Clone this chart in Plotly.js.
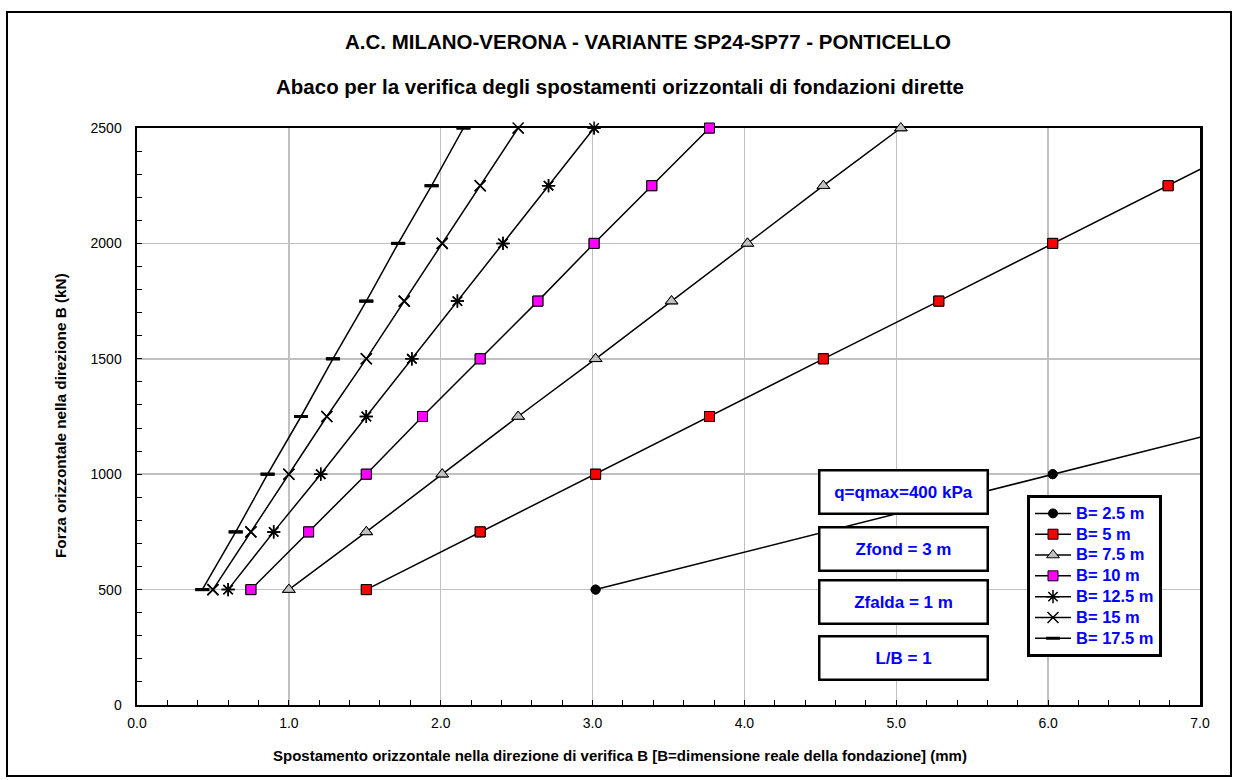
<!DOCTYPE html>
<html>
<head>
<meta charset="utf-8">
<script src="https://cdn.plot.ly/plotly-3.0.1.min.js"></script>
<style>
  html, body { margin: 0; padding: 0; background: #ffffff; }
  #chart { width: 1239px; height: 780px; }
</style>
</head>
<body>
<div id="chart"></div>
<script>
// Horizontal force levels (kN)
const forceKN = [500, 750, 1000, 1250, 1500, 1750, 2000, 2250, 2500];
const forceB25 = [500, 1000, 1500];

// Horizontal displacement (mm) for each foundation width B
const dispB25  = [3.02, 6.03, 9.05];
const dispB5   = [1.51, 2.26, 3.02, 3.77, 4.52, 5.28, 6.03, 6.79, 7.54];
const dispB75  = [1.00, 1.51, 2.01, 2.51, 3.02, 3.52, 4.02, 4.52, 5.03];
const dispB10  = [0.75, 1.13, 1.51, 1.88, 2.26, 2.64, 3.01, 3.39, 3.77];
const dispB125 = [0.60, 0.90, 1.21, 1.51, 1.81, 2.11, 2.41, 2.71, 3.01];
const dispB15  = [0.50, 0.75, 1.00, 1.25, 1.51, 1.76, 2.01, 2.26, 2.51];
const dispB175 = [0.43, 0.65, 0.86, 1.08, 1.29, 1.51, 1.72, 1.94, 2.15];

const seriesNames = ['B= 2.5 m', 'B= 5 m', 'B= 7.5 m', 'B= 10 m', 'B= 12.5 m', 'B= 15 m', 'B= 17.5 m'];

const titleLine1 = 'A.C. MILANO-VERONA - VARIANTE SP24-SP77 - PONTICELLO';
const titleLine2 = 'Abaco per la verifica degli spostamenti orizzontali di fondazioni dirette';
const xTitle = 'Spostamento orizzontale nella direzione di verifica B [B=dimensione reale della fondazione] (mm)';
const yTitle = 'Forza orizzontale nella direzione B (kN)';
const infoBoxes = ['q=qmax=400 kPa', 'Zfond = 3 m', 'Zfalda = 1 m', 'L/B = 1'];

// ---- layout geometry (pixels) ----
const W = 1239, H = 780;
const M = { l: 137, r: 39, t: 128, b: 75 };
const PW = W - M.l - M.r, PH = H - M.t - M.b;
const px = v => (v - M.l) / PW;          // pixel x -> paper x
const py = v => (H - M.b - v) / PH;      // pixel y -> paper y

const FONT = 'Liberation Sans, Arial, Helvetica, sans-serif';
const BLUE = '#0000ff';

const styles = [
  { symbol: 'circle',        size: 9,  color: '#000000', lc: '#000000', lw: 1 },
  { symbol: 'square',        size: 10, color: '#ff0000', lc: '#000000', lw: 1 },
  { symbol: 'triangle-up',   size: 11, color: '#c0c0c0', lc: '#000000', lw: 1 },
  { symbol: 'square',        size: 10, color: '#ff00ff', lc: '#000000', lw: 1 },
  { symbol: 'asterisk-open', size: 11, color: '#000000', lc: '#000000', lw: 1.5 },
  { symbol: 'x-thin-open',   size: 11, color: '#000000', lc: '#000000', lw: 1.5 },
  { symbol: 'line-ew-open',  size: 10, color: '#000000', lc: '#000000', lw: 3 }
];

const xs = [dispB25, dispB5, dispB75, dispB10, dispB125, dispB15, dispB175];
const ys = [forceB25, forceKN, forceKN, forceKN, forceKN, forceKN, forceKN];

const markerOf = s => ({ symbol: s.symbol, size: s.size, color: s.color,
                         line: { color: s.lc, width: s.lw } });

const traces = [];
xs.forEach((xv, i) => {
  // line + markers, clipped to the plotting area
  traces.push({
    type: 'scatter', mode: 'lines+markers',
    name: '<span style="font-size:16.5px">' + seriesNames[i] + '</span>',
    x: xv, y: ys[i], legendgroup: 'g' + i,
    line: { color: '#000000', width: 1.5 },
    marker: markerOf(styles[i]), hoverinfo: 'x+y'
  });
});
// markers again, unclipped so those sitting on the frame stay whole
xs.forEach((xv, i) => {
  traces.push({
    type: 'scatter', mode: 'markers', x: xv, y: ys[i],
    legendgroup: 'g' + i, showlegend: false, cliponaxis: false,
    marker: markerOf(styles[i]), hoverinfo: 'skip'
  });
});

const annotations = [
  { text: titleLine1, x: px(648), y: py(42), font: { size: 20.5, weight: 'bold', color: '#000' } },
  { text: titleLine2, x: px(620), y: py(87), font: { size: 20.5, weight: 'bold', color: '#000' } },
  { text: xTitle, x: px(620), y: py(755), font: { size: 15, weight: 'bold', color: '#000' } },
  { text: yTitle, x: px(60), y: py(416), textangle: -90, font: { size: 15.3, weight: 'bold', color: '#000' } }
].map(a => Object.assign({ xref: 'paper', yref: 'paper', showarrow: false,
                            xanchor: 'center', yanchor: 'middle' }, a));

const boxCenters = [491.5, 548.5, 602, 657.5];
infoBoxes.forEach((t, i) => {
  annotations.push({
    text: t, xref: 'paper', yref: 'paper', x: px(903), y: py(boxCenters[i]),
    xanchor: 'center', yanchor: 'middle', showarrow: false,
    width: 166, height: 41, borderpad: 0,
    bgcolor: '#ffffff', bordercolor: '#000000', borderwidth: 2.5,
    font: { size: 17, weight: 'bold', color: BLUE }
  });
});

const layout = {
  width: W, height: H,
  margin: M,
  paper_bgcolor: '#ffffff', plot_bgcolor: '#ffffff',
  font: { family: FONT, size: 14, color: '#000000' },
  showlegend: true,
  legend: {
    x: px(1027), y: py(495), xanchor: 'left', yanchor: 'top',
    bgcolor: '#ffffff', bordercolor: '#000000', borderwidth: 3,
    font: { size: 13.7, weight: 'bold', color: BLUE },
    itemwidth: 36, tracegroupgap: 0
  },
  xaxis: {
    range: [0, 7], dtick: 1, tick0: 0, tickformat: '.1f',
    showgrid: true, gridcolor: '#c0c0c0', gridwidth: 1.5,
    showline: true, linecolor: '#000000', linewidth: 2, mirror: true,
    ticks: 'inside', ticklen: 5, tickcolor: '#000000', tickwidth: 1,
    minor: { dtick: 0.2, ticks: 'inside', ticklen: 5, tickcolor: '#000000', showgrid: false },
    zeroline: false, fixedrange: true, layer: 'below traces',
    tickfont: { size: 14 }, ticklabelstandoff: 4
  },
  yaxis: {
    range: [0, 2500], dtick: 500, tick0: 0,
    showgrid: true, gridcolor: '#c0c0c0', gridwidth: 1.5,
    showline: true, linecolor: '#000000', linewidth: 2.5, mirror: true,
    ticks: 'inside', ticklen: 5, tickcolor: '#000000', tickwidth: 1,
    minor: { dtick: 100, ticks: 'inside', ticklen: 5, tickcolor: '#000000', showgrid: false },
    zeroline: false, fixedrange: true, layer: 'below traces',
    tickfont: { size: 14 }, ticklabelstandoff: 10
  },
  annotations: annotations,
  shapes: [
    { type: 'rect', xref: 'paper', yref: 'paper', layer: 'below',
      x0: px(7), x1: px(1231), y0: py(12), y1: py(776),
      line: { color: '#000000', width: 2 } }
  ]
};

Plotly.newPlot('chart', traces, layout, { displayModeBar: false, staticPlot: true });
</script>
</body>
</html>
